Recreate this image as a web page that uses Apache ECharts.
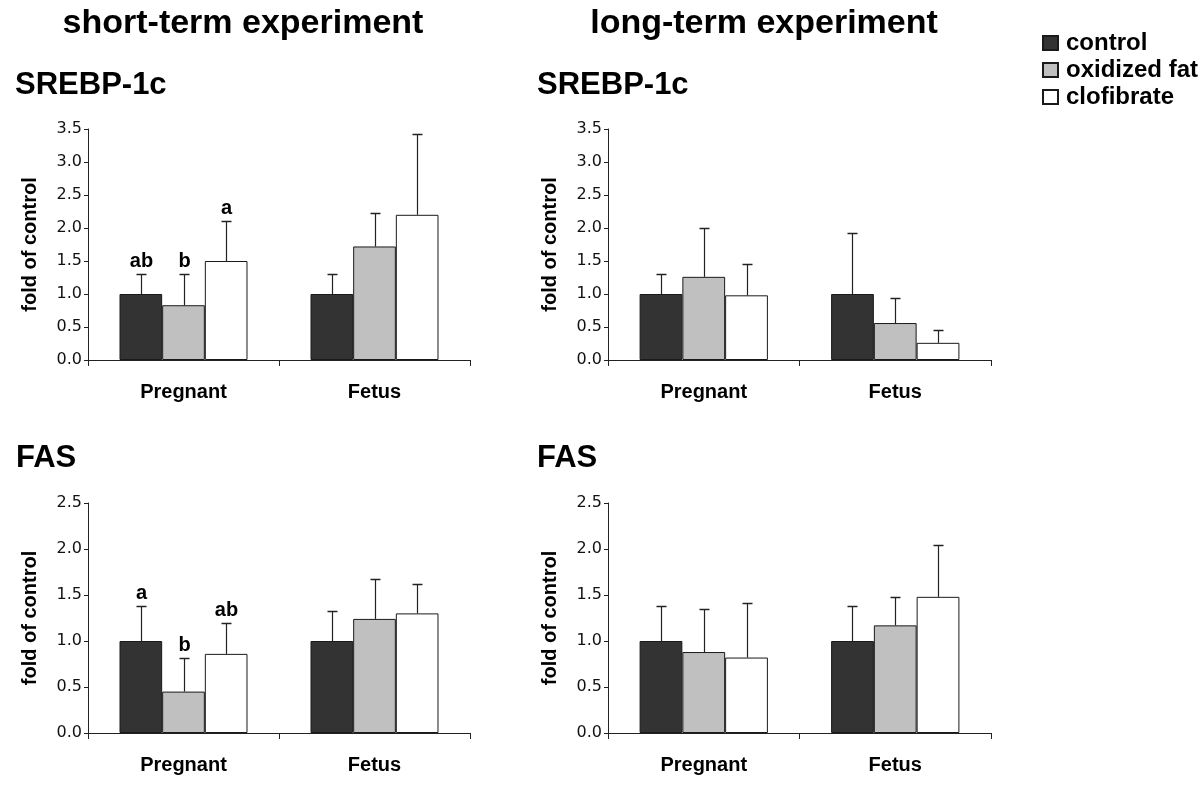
<!DOCTYPE html>
<html>
<head>
<meta charset="utf-8">
<style>html,body{margin:0;padding:0;background:#fff;}#c{width:1200px;height:794px;}</style>
<script src="https://cdn.jsdelivr.net/npm/echarts@6/dist/echarts.min.js"></script>
</head>
<body>
<div id="c"></div>
<script>
// ---------- data ----------
const categories = ['Pregnant', 'Fetus'];
const groupNames = ['control', 'oxidized fat', 'clofibrate'];
const groupColors = ['#333333', '#c0c0c0', '#ffffff'];

// SREBP-1c, short-term (means and upper ends of error bars)
const srebpShortControl = [1.00, 1.00];
const srebpShortOxFat = [0.83, 1.72];
const srebpShortClof = [1.50, 2.20];
const srebpShortControlTop = [1.31, 1.31];
const srebpShortOxFatTop = [1.30, 2.22];
const srebpShortClofTop = [2.11, 3.42];
const srebpShortLetters = [['ab', 'b', 'a'], ['', '', '']];

// SREBP-1c, long-term
const srebpLongControl = [1.00, 1.00];
const srebpLongOxFat = [1.26, 0.56];
const srebpLongClof = [0.98, 0.26];
const srebpLongControlTop = [1.31, 1.93];
const srebpLongOxFatTop = [2.00, 0.94];
const srebpLongClofTop = [1.45, 0.45];
const srebpLongLetters = [['', '', ''], ['', '', '']];

// FAS, short-term
const fasShortControl = [1.00, 1.00];
const fasShortOxFat = [0.45, 1.24];
const fasShortClof = [0.86, 1.30];
const fasShortControlTop = [1.38, 1.33];
const fasShortOxFatTop = [0.81, 1.67];
const fasShortClofTop = [1.20, 1.62];
const fasShortLetters = [['a', 'b', 'ab'], ['', '', '']];

// FAS, long-term
const fasLongControl = [1.00, 1.00];
const fasLongOxFat = [0.88, 1.17];
const fasLongClof = [0.82, 1.48];
const fasLongControlTop = [1.38, 1.38];
const fasLongOxFatTop = [1.35, 1.48];
const fasLongClofTop = [1.41, 2.04];
const fasLongLetters = [['', '', ''], ['', '', '']];

const topAxisMax = 3.5;
const bottomAxisMax = 2.5;
const axisInterval = 0.5;

// ---------- chart ----------
const FONT = 'Liberation Sans';
const panels = [
  {grid: {left: 88, top: 129, width: 382, height: 231}, max: topAxisMax,
   means: [srebpShortControl, srebpShortOxFat, srebpShortClof],
   tops: [srebpShortControlTop, srebpShortOxFatTop, srebpShortClofTop], letters: srebpShortLetters},
  {grid: {left: 608, top: 129, width: 383, height: 231}, max: topAxisMax,
   means: [srebpLongControl, srebpLongOxFat, srebpLongClof],
   tops: [srebpLongControlTop, srebpLongOxFatTop, srebpLongClofTop], letters: srebpLongLetters},
  {grid: {left: 88, top: 503, width: 382, height: 230}, max: bottomAxisMax,
   means: [fasShortControl, fasShortOxFat, fasShortClof],
   tops: [fasShortControlTop, fasShortOxFatTop, fasShortClofTop], letters: fasShortLetters},
  {grid: {left: 608, top: 503, width: 383, height: 230}, max: bottomAxisMax,
   means: [fasLongControl, fasLongOxFat, fasLongClof],
   tops: [fasLongControlTop, fasLongOxFatTop, fasLongClofTop], letters: fasLongLetters}
];

const CAT_GAP = 0.33;
const grids = [], xAxes = [], yAxes = [], series = [];
panels.forEach((p, pi) => {
  grids.push(Object.assign({outerBoundsMode: 'none', containLabel: false}, p.grid));
  xAxes.push({
    type: 'category', gridIndex: pi, data: categories, boundaryGap: true,
    axisLine: {lineStyle: {color: '#222', width: 1}},
    axisTick: {show: true, interval: 0, length: 6, alignWithLabel: false, lineStyle: {color: '#222'}},
    axisLabel: {margin: 22, color: '#000', fontFamily: FONT, fontWeight: 'bold', fontSize: 20}
  });
  yAxes.push({
    type: 'value', gridIndex: pi, min: 0, max: p.max, interval: axisInterval,
    name: 'fold of control', nameLocation: 'middle', nameRotate: 90, nameGap: 48,
    nameTextStyle: {fontFamily: FONT, fontWeight: 'bold', fontSize: 20, color: '#000'},
    axisLine: {show: true, lineStyle: {color: '#222', width: 1}},
    axisTick: {show: true, length: 4, lineStyle: {color: '#222'}},
    splitLine: {show: false},
    axisLabel: {margin: 6, color: '#111', fontFamily: 'DejaVu Sans', fontSize: 16,
      formatter: v => v.toFixed(1)}
  });
  p.means.forEach((vals, gi) => {
    series.push({
      type: 'bar', name: groupNames[gi], xAxisIndex: pi, yAxisIndex: pi,
      data: vals, barGap: '0%', barCategoryGap: (CAT_GAP * 100) + '%',
      itemStyle: {color: groupColors[gi], borderColor: '#1a1a1a', borderWidth: 1},
      emphasis: {disabled: true}, z: 2
    });
  });
  const ebData = [];
  categories.forEach((c, ci) => {
    p.means.forEach((vals, gi) => {
      ebData.push([ci, gi, vals[ci], p.tops[gi][ci]]);
    });
  });
  const letters = p.letters;
  series.push({
    type: 'custom', xAxisIndex: pi, yAxisIndex: pi, z: 5, silent: true,
    data: ebData,
    renderItem: function (params, api) {
      const ci = api.value(0), gi = api.value(1), mean = api.value(2), top = api.value(3);
      const band = api.size([1, 0])[0];
      const bw = band * (1 - CAT_GAP) / 3;
      const base = api.coord([ci, mean]);
      const tp = api.coord([ci, top]);
      const x = Math.round(base[0] + (gi - 1) * bw) + 0.5;
      const yT = Math.round(tp[1]) + 0.5;
      const children = [
        {type: 'line', shape: {x1: x, y1: base[1], x2: x, y2: yT}, style: {stroke: '#222', lineWidth: 1.2}},
        {type: 'line', shape: {x1: x - 5, y1: yT, x2: x + 5, y2: yT}, style: {stroke: '#222', lineWidth: 1.5}}
      ];
      const lt = letters[ci][gi];
      if (lt) {
        children.push({type: 'text', style: {text: lt, x: x, y: yT - 3, align: 'center', verticalAlign: 'bottom',
          font: 'bold 20px "' + FONT + '"', fill: '#000'}});
      }
      return {type: 'group', children: children};
    }
  });
});

const titleFont = 'bold 34px "' + FONT + '"';
const subFont = 'bold 31px "' + FONT + '"';
const graphics = [
  {type: 'text', style: {text: 'short-term experiment', x: 243, y: 24, align: 'center', verticalAlign: 'middle', font: titleFont, fill: '#000'}},
  {type: 'text', style: {text: 'long-term experiment', x: 764, y: 24, align: 'center', verticalAlign: 'middle', font: titleFont, fill: '#000'}},
  {type: 'text', style: {text: 'SREBP-1c', x: 15, y: 85, align: 'left', verticalAlign: 'middle', font: subFont, fill: '#000'}},
  {type: 'text', style: {text: 'SREBP-1c', x: 537, y: 85, align: 'left', verticalAlign: 'middle', font: subFont, fill: '#000'}},
  {type: 'text', style: {text: 'FAS', x: 16, y: 458, align: 'left', verticalAlign: 'middle', font: subFont, fill: '#000'}},
  {type: 'text', style: {text: 'FAS', x: 537, y: 458, align: 'left', verticalAlign: 'middle', font: subFont, fill: '#000'}}
];

const chart = echarts.init(document.getElementById('c'), null, {renderer: 'canvas'});
chart.setOption({
  animation: false,
  backgroundColor: '#fff',
  grid: grids,
  xAxis: xAxes,
  yAxis: yAxes,
  legend: {
    data: groupNames, orient: 'vertical', left: 1037, top: 26, itemWidth: 15, itemHeight: 14,
    itemGap: 3, icon: 'rect', selectedMode: false,
    textStyle: {fontFamily: FONT, fontWeight: 'bold', fontSize: 24, color: '#000', padding: [0, 0, 0, 3]}
  },
  graphic: graphics,
  series: series
});
</script>
</body>
</html>
